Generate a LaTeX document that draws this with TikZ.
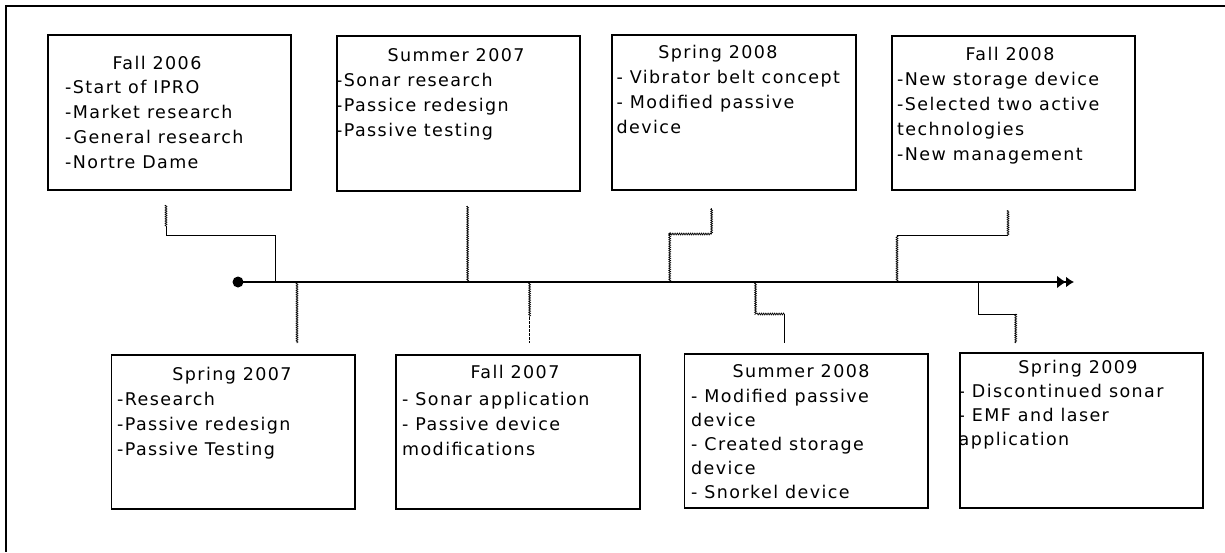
\documentclass[tikz,border=0pt]{standalone}
\usepackage{fontspec}
\setmainfont{DejaVu Sans}[LetterSpace=8]
\usetikzlibrary{arrows.meta,decorations.pathmorphing}
\newcommand{\bodyfnt}{\fontsize{17.5}{25}\selectfont}
\newcommand{\bodyfntb}{\fontsize{17.5}{24}\selectfont}
\tikzset{
  box/.style={draw=black, line width=1.3pt, inner sep=0pt, fill=none},
  ttl/.style={anchor=base, inner sep=0pt, font=\bodyfnt},
  body/.style={anchor=base west, inner sep=0pt, align=left, font=\bodyfnt},
  conn/.style={draw=black, line width=0.8pt},
  wavy/.style={draw=black, line width=0.7pt, decorate,
     decoration={zigzag, segment length=2.2pt, amplitude=0.9pt}},
  dsh/.style={draw=black, line width=0.9pt, dash pattern=on 3pt off 1pt},
  timeline/.style={draw=black, line width=1.6pt},
  frame/.style={draw=black, line width=2pt}
}
\begin{document}
\begin{tikzpicture}[x=1pt,y=-1pt]
\useasboundingbox (0,0) rectangle (1225,552);
\fill[white] (0,0) rectangle (1225,552);
% frame
\coordinate (fr0) at (1225,6);
\coordinate (fr1) at (6,6);
\coordinate (fr2) at (6,552);
\draw[frame] (fr0) -- (fr1) -- (fr2);

% boxes
\node[box, minimum width=243pt, minimum height=155pt] (b1) at (169.5,112.5) {};
\node[box, minimum width=243pt, minimum height=155pt] (b2) at (458.5,113.5) {};
\node[box, minimum width=244pt, minimum height=155pt] (b3) at (734,112.5) {};
\node[box, minimum width=243pt, minimum height=154pt] (b4) at (1013.5,113) {};
\node[box, minimum width=243.5pt, minimum height=154pt] (b5) at (233.25,432) {};
\node[box, minimum width=244pt, minimum height=154pt] (b6) at (518,432) {};
\node[box, minimum width=243.5pt, minimum height=154pt] (b7) at (806.25,431) {};
\node[box, minimum width=243pt, minimum height=155pt] (b8) at (1081.5,430.5) {};

% titles
\node[ttl] (t1) at (157,69) {Fall 2006};
\node[ttl] (t2) at (456,61) {Summer 2007};
\node[ttl] (t3) at (718,58) {Spring 2008};
\node[ttl] (t4) at (1010,60) {Fall 2008};
\node[ttl] (t5) at (232,380) {Spring 2007};
\node[ttl] (t6) at (515,378.7) {Fall 2007};
\node[ttl] (t7) at (801,377.7) {Summer 2008};
\node[ttl] (t8) at (1078,373) {Spring 2009};

% bodies (anchored at the baseline of the last line)
\node[body] (x1) at (65,168.3) {-Start of IPRO\\-Market research\\-General research\\-Nortre Dame};
\node[body] (x2) at (336,136) {-Sonar research\\-Passice redesign\\-Passive testing};
\node[body] (x3) at (616.5,133) {- Vibrator belt concept\\- Modified passive\\device};
\node[body] (x4) at (897,160) {-New storage device\\-Selected two active\\technologies\\-New management};
\node[body] (x5) at (117,455) {-Research\\-Passive redesign\\-Passive Testing};
\node[body] (x6) at (402,455) {- Sonar application\\- Passive device\\modifications};
\node[body, font=\bodyfntb] (x7) at (691,498.7) {- Modified passive\\device\\- Created storage\\device\\- Snorkel device};
\node[body, font=\bodyfntb] (x8) at (958.5,445) {- Discontinued sonar\\- EMF and laser\\application};

% timeline
\node[circle, fill=black, minimum size=11pt, inner sep=0pt] (dot) at (238,282) {};
\coordinate (tend) at (1074,282);
\draw[timeline, -{Latex[length=9pt,width=13pt]Latex[length=8pt,width=11pt]}] (dot.center) -- (tend);

% connector points on the timeline
\coordinate (p1) at (275.5,282);
\coordinate (p2) at (467.6,282);
\coordinate (p3) at (669.7,282);
\coordinate (p4) at (897,282);
\coordinate (q1) at (297,282);
\coordinate (q2) at (529.6,282);
\coordinate (q3) at (755.5,282);
\coordinate (q4) at (978.6,282);

% upper connectors
\coordinate (a1) at (166,235.7);
\coordinate (a1m) at (166,226);
\coordinate (e1) at (166,205);
\draw[conn] (p1) |- (a1) -- (a1m);
\draw[wavy] (a1m) -- (e1);

\coordinate (e2) at (467.6,206);
\draw[wavy] (p2) -- (e2);

\coordinate (a3) at (669.7,234);
\coordinate (a3r) at (711.6,234);
\coordinate (e3) at (711.6,208);
\draw[wavy] (p3) -- (a3) -- (a3r);
\draw[wavy] (a3r) -- (e3);
\fill (a3) circle (1.5);

\coordinate (a4) at (897,235.7);
\coordinate (a4r) at (1008,235.7);
\coordinate (e4) at (1008,210);
\draw[wavy] (p4) -- (a4);
\draw[conn] (a4) -- (a4r);
\draw[wavy] (a4r) -- (e4);

% lower connectors
\coordinate (f1) at (297,343);
\draw[wavy] (q1) -- (f1);

\coordinate (g2) at (529.6,317);
\coordinate (f2) at (529.6,343);
\draw[wavy] (q2) -- (g2);
\draw[dsh] (g2) -- (f2);

\coordinate (g3) at (755.5,314);
\coordinate (g3r) at (784.5,314);
\coordinate (f3) at (784.5,343);
\draw[wavy] (q3) -- (g3) -- (g3r);
\draw[conn] (g3r) -- (f3);

\coordinate (g4) at (978.6,314);
\coordinate (g4r) at (1015.7,314);
\coordinate (f4) at (1015.7,343);
\draw[conn] (q4) |- (g4r);
\draw[wavy] (g4r) -- (f4);
\end{tikzpicture}
\end{document}
